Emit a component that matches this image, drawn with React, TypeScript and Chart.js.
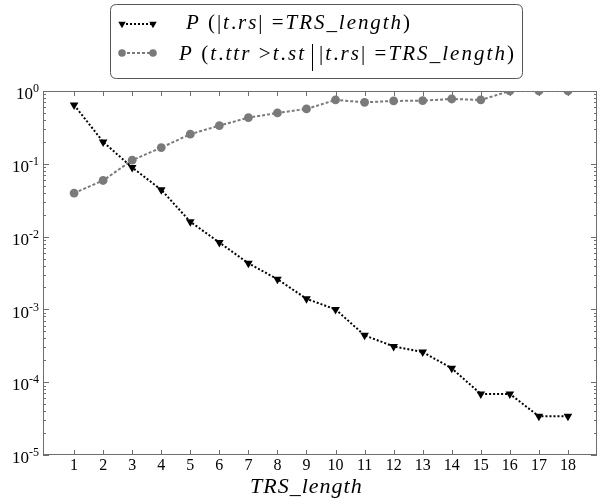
import React, { useEffect, useRef, useState } from 'react';
import { Chart, registerables } from 'chart.js';

Chart.register(...registerables);

// ---- data ----
const categories = [1, 2, 3, 4, 5, 6, 7, 8, 9, 10, 11, 12, 13, 14, 15, 16, 17, 18];
const seriesLength = [
  0.643, 0.2, 0.089, 0.044, 0.016, 0.0083, 0.0043, 0.0026, 0.0014, 0.001,
  0.00044, 0.00031, 0.00026, 0.000155, 0.000069, 0.000069, 0.000034, 0.000034,
];
const seriesTTR = [
  0.0396, 0.059, 0.112, 0.167, 0.255, 0.335, 0.43, 0.5, 0.567, 0.753,
  0.7, 0.73, 0.736, 0.777, 0.753, 1.0, 1.0, 1.0,
];
const yTickExponents = [0, -1, -2, -3, -4, -5];
const xTickLabels = categories.map(String);
const xAxisTitle = 'TRS_length';
const legendRow1 = ['P (|t.rs| =TRS_length)'];
const legendRow2 = ['P (t.ttr >t.st', '|t.rs| =TRS_length)'];

// ---- styles ----
const AXIS = '#6e6e6e';
const GRAY = '#7a7a7a';
const SERIF = '"Liberation Serif", serif';
const W = 602;
const H = 502;

// baseline offset from top of a line box whose line-height equals font size
const baseOff = (s: number) => s * 0.8375;

function MathText({ text }: { text: string }) {
  return (
    <>
      {[...text].map((ch, i) => (
        <span key={i} style={{ fontStyle: /[A-Za-z]/.test(ch) ? 'italic' : 'normal', whiteSpace: 'pre' }}>
          {ch}
        </span>
      ))}
    </>
  );
}

function drawTri(ctx: CanvasRenderingContext2D, x: number, y: number, r: number) {
  ctx.beginPath();
  ctx.moveTo(x, y + r);
  ctx.lineTo(x - r * 0.866, y - r * 0.5);
  ctx.lineTo(x + r * 0.866, y - r * 0.5);
  ctx.closePath();
  ctx.fill();
}

function drawDot(ctx: CanvasRenderingContext2D, x: number, y: number, r: number) {
  ctx.beginPath();
  ctx.arc(x, y, r, 0, Math.PI * 2);
  ctx.fill();
}

const framePlugin = {
  id: 'framePlugin',
  beforeDatasetsDraw(chart: any) {
    const { ctx, chartArea: a, scales } = chart;
    const xs = scales.x;
    const ys = scales.y;
    ctx.save();
    ctx.strokeStyle = AXIS;
    ctx.lineWidth = 1;
    ctx.strokeRect(a.left + 0.5, a.top + 0.5, a.right - a.left - 1, a.bottom - a.top - 1);
    const seg = (x1: number, y1: number, x2: number, y2: number) => {
      ctx.beginPath();
      ctx.moveTo(x1, y1);
      ctx.lineTo(x2, y2);
      ctx.stroke();
    };
    for (const v of categories) {
      const px = Math.round(xs.getPixelForValue(v)) + 0.5;
      seg(px, a.bottom, px, a.bottom - 5);
      seg(px, a.top, px, a.top + 5);
    }
    for (const e of yTickExponents) {
      const py = Math.round(ys.getPixelForValue(Math.pow(10, e))) + 0.5;
      seg(a.left, py, a.left + 6, py);
      seg(a.right, py, a.right - 6, py);
      if (e < 0) {
        for (let m = 2; m <= 9; m++) {
          const pm = Math.round(ys.getPixelForValue(m * Math.pow(10, e))) + 0.5;
          seg(a.left, pm, a.left + 3, pm);
          seg(a.right, pm, a.right - 3, pm);
        }
      }
    }
    ctx.restore();
  },
  afterDraw(chart: any) {
    const { ctx } = chart;
    ctx.save();
    // legend box
    const bx = 110.5, by = 4.5, bw = 412, bh = 74, r = 6;
    ctx.beginPath();
    ctx.moveTo(bx + r, by);
    ctx.lineTo(bx + bw - r, by);
    ctx.quadraticCurveTo(bx + bw, by, bx + bw, by + r);
    ctx.lineTo(bx + bw, by + bh - r);
    ctx.quadraticCurveTo(bx + bw, by + bh, bx + bw - r, by + bh);
    ctx.lineTo(bx + r, by + bh);
    ctx.quadraticCurveTo(bx, by + bh, bx, by + bh - r);
    ctx.lineTo(bx, by + r);
    ctx.quadraticCurveTo(bx, by, bx + r, by);
    ctx.closePath();
    ctx.fillStyle = '#fff';
    ctx.fill();
    ctx.strokeStyle = '#555';
    ctx.lineWidth = 1;
    ctx.stroke();

    const lx1 = 122, lx2 = 153;
    ctx.strokeStyle = '#000';
    ctx.lineWidth = 2;
    ctx.setLineDash([2, 2]);
    ctx.beginPath();
    ctx.moveTo(lx1, 24);
    ctx.lineTo(lx2, 24);
    ctx.stroke();
    ctx.setLineDash([]);
    ctx.fillStyle = '#000';
    drawTri(ctx, lx1, 24, 4.3);
    drawTri(ctx, lx2, 24, 4.3);

    ctx.strokeStyle = GRAY;
    ctx.setLineDash([3, 2]);
    ctx.beginPath();
    ctx.moveTo(lx1, 53);
    ctx.lineTo(lx2, 53);
    ctx.stroke();
    ctx.setLineDash([]);
    ctx.fillStyle = GRAY;
    drawDot(ctx, lx1, 53, 3.8);
    drawDot(ctx, lx2, 53, 3.8);
    ctx.restore();
  },
};

type Layout = {
  left: number;
  right: number;
  top: number;
  bottom: number;
  xs: number[];
  ys: number[];
};

export default function App() {
  const ref = useRef<HTMLCanvasElement | null>(null);
  const [lay, setLay] = useState<Layout | null>(null);
  useEffect(() => {
    if (!ref.current) return;
    const chart = new Chart(ref.current, {
      type: 'line',
      data: {
        datasets: [
          {
            label: legendRow1.join(''),
            data: categories.map((c, i) => ({ x: c, y: seriesLength[i] })),
            borderColor: '#000',
            backgroundColor: '#000',
            borderWidth: 2,
            borderDash: [2, 2],
            pointStyle: 'triangle',
            pointRotation: 180,
            pointRadius: 5,
            pointBorderWidth: 0,
            pointBackgroundColor: '#000',
            tension: 0,
          },
          {
            label: legendRow2.join(' | '),
            data: categories.map((c, i) => ({ x: c, y: seriesTTR[i] })),
            borderColor: GRAY,
            backgroundColor: GRAY,
            borderWidth: 2,
            borderDash: [3, 2],
            pointStyle: 'circle',
            pointRadius: 4.4,
            pointBorderWidth: 0,
            pointBackgroundColor: GRAY,
            tension: 0,
          },
        ],
      },
      options: {
        responsive: false,
        animation: false,
        events: [],
        layout: { padding: { left: 43, right: 4, top: 91, bottom: 47 } },
        plugins: { legend: { display: false }, tooltip: { enabled: false } },
        scales: {
          x: { type: 'linear', min: -0.07, max: 19, display: false },
          y: { type: 'logarithmic', min: 1e-5, max: 1, display: false },
        },
      },
      plugins: [framePlugin],
    } as any);
    const a = chart.chartArea;
    const xs: any = chart.scales.x;
    const ys: any = chart.scales.y;
    setLay({
      left: a.left,
      right: a.right,
      top: a.top,
      bottom: a.bottom,
      xs: categories.map((v) => xs.getPixelForValue(v)),
      ys: yTickExponents.map((e) => ys.getPixelForValue(Math.pow(10, e))),
    });
    return () => chart.destroy();
  }, []);

  const txt = (s: number): React.CSSProperties => ({
    position: 'absolute',
    fontFamily: SERIF,
    fontSize: s,
    lineHeight: s + 'px',
    color: '#000',
    whiteSpace: 'pre',
  });

  return (
    <div style={{ position: 'fixed', left: 0, top: 0, width: W, height: H, background: '#fff', overflow: 'hidden' }}>
      <canvas ref={ref} width={W} height={H} style={{ width: W, height: H, display: 'block' }} />
      {lay && (
        <>
          {categories.map((v, i) => (
            <div
              key={'x' + v}
              style={{
                ...txt(16),
                left: lay.xs[i] - 20,
                width: 40,
                textAlign: 'center',
                top: lay.bottom + 15.5 - baseOff(16),
              }}
            >
              {xTickLabels[i]}
            </div>
          ))}
          {yTickExponents.map((e, i) => (
            <div
              key={'y' + e}
              style={{
                ...txt(17),
                right: W - (lay.left - 4),
                textAlign: 'right',
                top: lay.ys[i] + 5.5 - baseOff(17),
              }}
            >
              10
              <span style={{ fontSize: 12, verticalAlign: '7px', lineHeight: '12px' }}>
                {e === 0 ? '0' : '-' + String(-e)}
              </span>
            </div>
          ))}
          <div style={{ ...txt(22), left: 250, top: 493 - baseOff(22), letterSpacing: '1px' }}>
            <MathText text={xAxisTitle} />
          </div>
          <div style={{ ...txt(21), left: 186, top: 29.5 - baseOff(21), letterSpacing: '1.95px' }}>
            <MathText text={legendRow1[0]} />
          </div>
          <div style={{ ...txt(21), left: 179, top: 61 - baseOff(21), letterSpacing: '2.05px' }}>
            <MathText text={legendRow2[0]} />
            <span
              style={{
                display: 'inline-block',
                width: 0,
                height: 27,
                borderLeft: '1.3px solid #000',
                margin: '0 6px',
                verticalAlign: '-11px',
              }}
            />
            <MathText text={legendRow2[1]} />
          </div>
        </>
      )}
    </div>
  );
}
